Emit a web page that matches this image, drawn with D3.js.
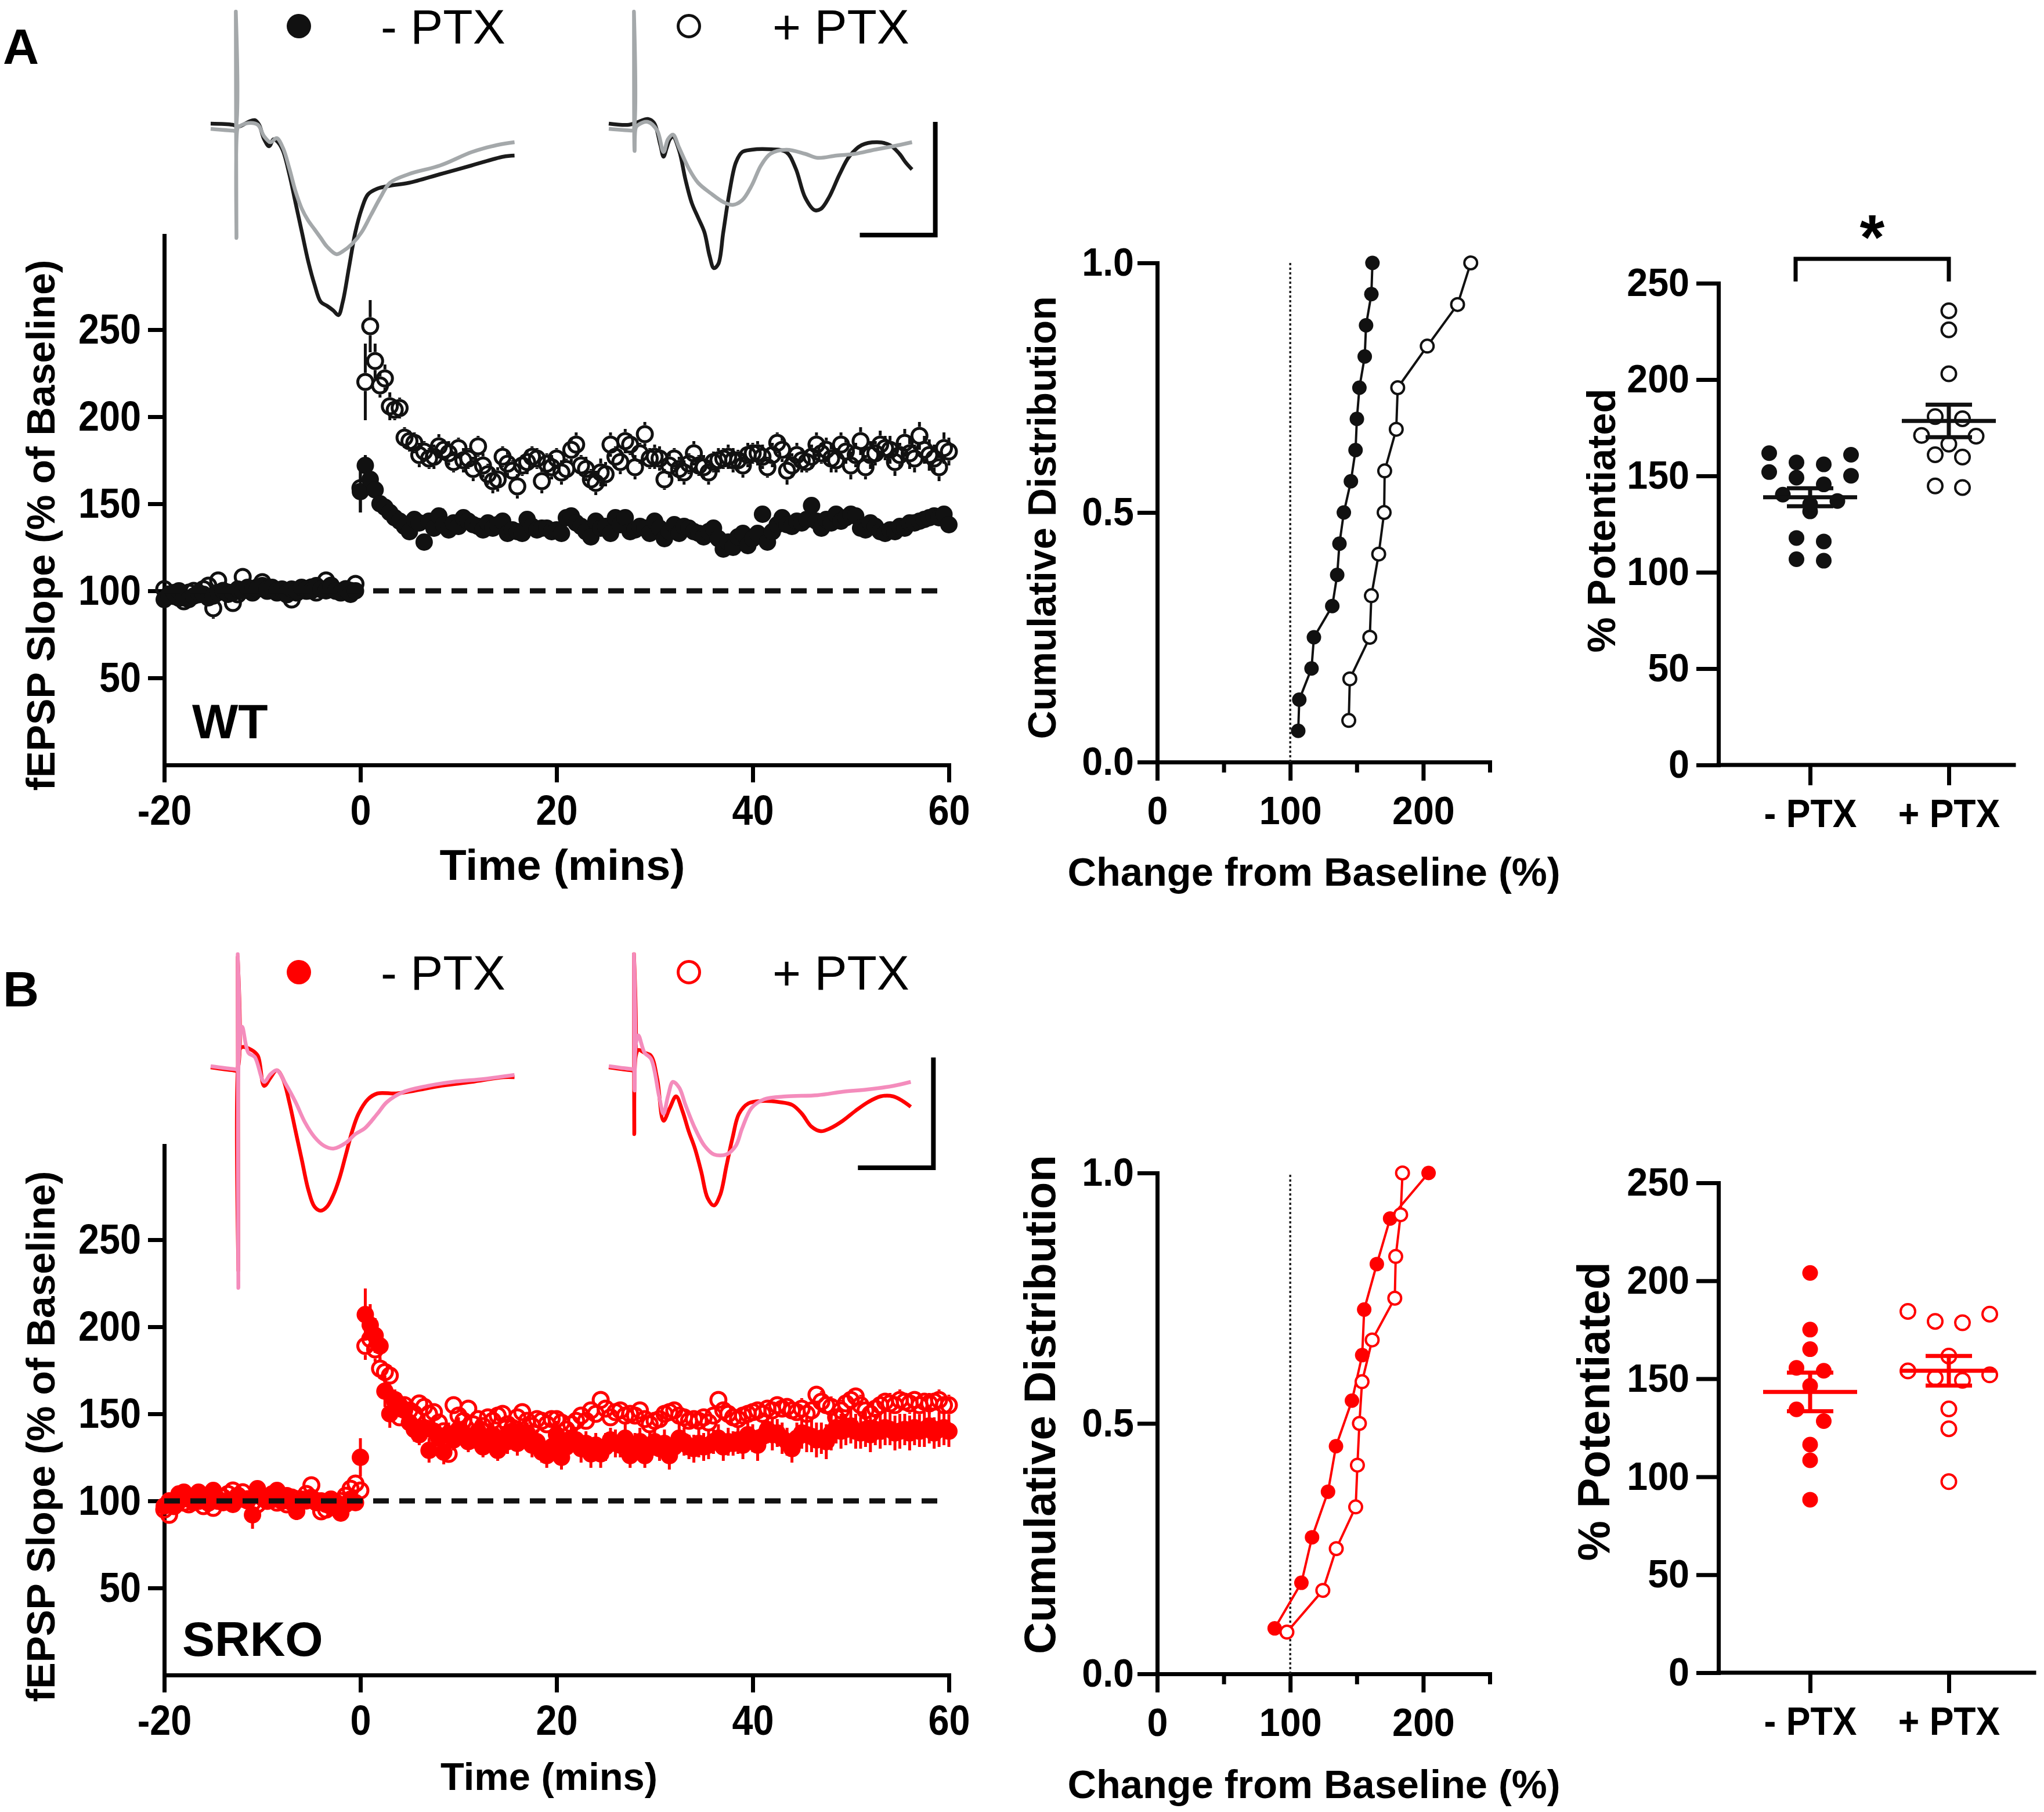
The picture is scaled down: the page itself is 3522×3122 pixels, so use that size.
<!DOCTYPE html>
<html>
<head>
<meta charset="utf-8">
<script src="https://cdn.jsdelivr.net/npm/d3@7"></script>
<style>
  body { margin: 0; background: #fff; }
  svg { display: block; }
  text { font-family: "Liberation Sans", Arial, Helvetica, sans-serif; }
</style>
</head>
<body>
<svg id="fig" width="3522" height="3122"></svg>
<script>
// colours
const BLACK = '#111111', GRAY = '#a4a8aa', RED = '#ff0000', PINK = '#f48cbc';

// tick values / labels
const timeTicks = [-20, 0, 20, 40, 60];
const slopeTicks = [50, 100, 150, 200, 250];
const cumYTicks = [0, 0.5, 1];
const cumXMajor = [0, 100, 200];
const cumXMinor = [50, 150, 250];
const potTicks = [0, 50, 100, 150, 200, 250];
const groups = ['- PTX', '+ PTX'];

// sampling grid of the time course (one point every 30 s)
const tBase = d3.range(-20, 0, 0.5);
const tPost = d3.range(0, 60.01, 0.5);

// ---- WT, -PTX (filled) ----
const wtMinusBase = [
  95, 97, 99, 100, 96, 95, 97, 99, 98, 96,
  97, 99, 100, 98, 99, 101, 100, 102, 100, 101,
  103, 101, 102, 100, 101, 99, 101, 100, 102, 101,
  100, 103, 101, 100, 102, 100, 99, 101, 98, 100];
const wtMinusBaseSem = [
  3, 3, 2, 2, 3, 3, 2, 2, 3, 2, 2, 3, 2, 2, 3, 2, 2, 3, 2, 2,
  3, 2, 2, 3, 2, 2, 3, 2, 2, 3, 2, 2, 3, 2, 2, 3, 2, 2, 3, 3];
const wtMinusPost = [
  157, 172, 164, 158, 150, 148, 145, 142, 140, 137,
  134, 141, 139, 128, 140, 136, 143, 138, 135, 139,
  137, 142, 140, 138, 137, 135, 139, 136, 138, 140,
  133, 135, 134, 133, 141, 137, 135, 136, 136, 134,
  135, 133, 142, 143, 139, 137, 134, 131, 140, 136,
  137, 133, 142, 138, 142, 134, 135, 137, 136, 133,
  140, 136, 130, 134, 138, 133, 137, 136, 134, 133,
  131, 134, 136, 130, 124, 128, 125, 131, 133, 126,
  130, 133, 144, 128, 134, 138, 142, 138, 137, 140,
  139, 141, 149, 140, 136, 141, 139, 144, 140, 142,
  144, 143, 136, 135, 139, 137, 134, 133, 135, 134,
  137, 136, 139, 139, 140, 141, 142, 143, 142, 144,
  138];
const wtMinusPostSem = [
  12, 6, 5, 4, 4, 4, 4, 3, 3, 3,
  3, 3, 3, 4, 3, 3, 3, 3, 3, 3,
  3, 3, 3, 3, 3, 3, 3, 3, 3, 3,
  3, 3, 3, 3, 3, 3, 3, 3, 3, 3,
  3, 3, 3, 3, 3, 3, 3, 3, 3, 3,
  3, 3, 3, 3, 3, 3, 3, 3, 3, 3,
  3, 3, 3, 3, 3, 3, 3, 3, 3, 3,
  3, 3, 3, 3, 4, 3, 4, 3, 3, 4,
  3, 3, 4, 4, 3, 3, 3, 3, 3, 3,
  3, 3, 4, 3, 3, 3, 3, 3, 3, 3,
  3, 3, 3, 3, 3, 3, 3, 3, 3, 3,
  3, 3, 3, 3, 3, 3, 3, 3, 3, 3,
  3];

// ---- WT, +PTX (open) ----
const wtPlusBase = [
  101, 98, 97, 96, 94, 99, 100, 98, 101, 103,
  90, 106, 100, 99, 93, 98, 108, 101, 99, 102,
  105, 100, 101, 99, 100, 98, 95, 99, 101, 100,
  102, 99, 101, 106, 103, 100, 99, 101, 100, 104];
const wtPlusBaseSem = [
  4, 5, 4, 4, 5, 4, 4, 5, 4, 4, 6, 5, 4, 5, 5, 4, 5, 4, 4, 4,
  5, 4, 4, 4, 5, 4, 5, 4, 4, 4, 4, 5, 4, 5, 4, 4, 4, 5, 4, 5];
const wtPlusPost = [
  159, 220, 252, 232, 218, 222, 206, 204, 205, 188,
  186, 185, 178, 180, 176, 177, 183, 181, 179, 174,
  182, 175, 176, 170, 183, 172, 167, 163, 164, 177,
  173, 169, 160, 172, 174, 177, 176, 163, 173, 171,
  176, 168, 170, 181, 184, 172, 170, 164, 162, 168,
  167, 184, 177, 174, 186, 184, 171, 179, 190, 176,
  177, 176, 164, 172, 176, 170, 168, 173, 179, 172,
  171, 168, 174, 175, 176, 177, 175, 175, 172, 178,
  179, 179, 177, 171, 178, 185, 181, 169, 172, 178,
  175, 174, 177, 184, 179, 181, 176, 175, 184, 180,
  172, 178, 186, 171, 178, 179, 184, 182, 181, 174,
  178, 185, 179, 176, 189, 181, 178, 176, 171, 182,
  180];
const wtPlusPostSem = [
  14, 22, 15, 10, 7, 8, 8, 6, 6, 6,
  6, 6, 7, 6, 6, 7, 7, 6, 7, 6,
  6, 7, 6, 7, 6, 7, 6, 7, 7, 6,
  7, 6, 7, 6, 7, 6, 6, 7, 6, 7,
  6, 7, 6, 7, 7, 6, 7, 6, 7, 8,
  7, 7, 6, 7, 7, 6, 7, 6, 7, 6,
  7, 7, 6, 7, 6, 7, 7, 6, 7, 6,
  7, 7, 6, 7, 6, 7, 7, 6, 7, 7,
  6, 7, 7, 6, 7, 6, 7, 8, 7, 7,
  7, 6, 7, 7, 6, 7, 8, 7, 7, 7,
  8, 7, 8, 7, 8, 7, 8, 7, 8, 8,
  7, 8, 9, 8, 8, 8, 9, 8, 8, 9,
  8];

// ---- SRKO, -PTX (filled) ----
const koMinusBase = [
  97, 100, 98, 104, 105, 101, 99, 105, 102, 100,
  106, 101, 99, 100, 98, 103, 101, 100, 92, 107,
  103, 101, 104, 106, 100, 103, 99, 94, 101, 100,
  102, 99, 100, 98, 101, 96, 93, 98, 101, 99];
const koMinusBaseSem = [
  4, 3, 4, 3, 4, 3, 4, 4, 3, 4, 4, 3, 4, 3, 4, 4, 3, 4, 8, 4,
  4, 3, 4, 4, 3, 4, 3, 5, 4, 3, 4, 3, 4, 3, 4, 5, 4, 3, 4, 4];
const koMinusPost = [
  125, 207, 201, 195, 189, 163, 150, 157, 155, 152,
  145, 141, 138, 142, 129, 140, 136, 128, 138, 135,
  141, 139, 134, 137, 140, 131, 135, 138, 129, 136,
  134, 140, 133, 137, 139, 132, 134, 128, 126, 131,
  138, 125, 131, 136, 135, 130, 133, 127, 132, 127,
  131, 135, 133, 132, 136, 126, 131, 134, 126, 131,
  134, 130, 133, 126, 131, 136, 134, 131, 130, 133,
  131, 132, 134, 136, 131, 134, 133, 135, 132, 138,
  136, 132, 137, 141, 138, 139, 136, 134, 130, 136,
  139, 138, 137, 135, 136, 134, 139, 142, 140, 141,
  143, 140, 139, 141, 138, 141, 140, 142, 141, 139,
  140, 141, 139, 142, 140, 141, 143, 139, 141, 142,
  140];
const koMinusPostSem = [
  11, 15, 12, 10, 8, 9, 8, 7, 7, 7,
  7, 7, 6, 7, 7, 7, 6, 7, 7, 6,
  7, 7, 6, 7, 7, 6, 7, 7, 6, 7,
  7, 6, 7, 7, 6, 7, 7, 6, 7, 7,
  8, 7, 7, 8, 7, 8, 7, 8, 7, 8,
  8, 7, 8, 7, 8, 7, 8, 8, 7, 8,
  8, 7, 8, 8, 7, 8, 8, 7, 8, 8,
  8, 8, 7, 8, 8, 8, 7, 8, 8, 8,
  8, 9, 8, 8, 9, 8, 9, 8, 8, 9,
  9, 10, 9, 10, 9, 10, 10, 9, 10, 9,
  10, 10, 9, 10, 10, 9, 10, 10, 9, 10,
  10, 9, 10, 10, 9, 10, 10, 9, 10, 10,
  9];

// ---- SRKO, +PTX (open) ----
const koPlusBase = [
  95, 92, 97, 100, 99, 98, 101, 100, 97, 99,
  96, 100, 102, 104, 106, 103, 105, 101, 99, 98,
  102, 100, 101, 99, 100, 98, 102, 101, 100, 104,
  109, 100, 94, 95, 97, 99, 100, 103, 107, 110];
const koPlusBaseSem = [
  4, 5, 4, 4, 3, 4, 4, 3, 4, 4, 4, 3, 4, 4, 4, 3, 4, 4, 3, 4,
  4, 3, 4, 4, 3, 4, 4, 3, 4, 4, 5, 4, 4, 3, 4, 4, 3, 4, 4, 5];
const koPlusPost = [
  106, 189, 193, 187, 176, 174, 172, 158, 148, 155,
  152, 150, 156, 154, 150, 151, 145, 140, 127, 155,
  149, 146, 153, 144, 147, 143, 148, 146, 149, 150,
  144, 142, 148, 151, 146, 143, 147, 146, 144, 147,
  147, 145, 141, 144, 146, 149, 146, 152, 150, 158,
  153, 148, 151, 152, 149, 150, 149, 152, 147, 144,
  146, 147, 150, 151, 152, 149, 148, 146, 147, 146,
  148, 145, 149, 158, 152, 150, 148, 147, 149, 150,
  151, 152, 150, 153, 152, 155, 153, 154, 152, 151,
  153, 150, 152, 161, 157, 155, 154, 148, 152, 156,
  158, 160, 155, 152, 150, 153, 155, 157, 156, 155,
  158, 157, 156, 158, 155, 157, 156, 157, 158, 155,
  155];
const koPlusPostSem = [
  5, 8, 7, 7, 6, 6, 6, 6, 5, 5,
  5, 5, 5, 5, 5, 5, 5, 5, 5, 5,
  5, 5, 5, 5, 5, 5, 5, 5, 5, 5,
  5, 5, 5, 5, 5, 5, 5, 5, 5, 5,
  5, 5, 5, 5, 5, 5, 5, 5, 5, 5,
  5, 5, 5, 5, 5, 5, 5, 5, 5, 5,
  5, 5, 5, 5, 5, 5, 5, 5, 5, 5,
  5, 5, 5, 5, 5, 5, 5, 5, 5, 5,
  5, 5, 5, 5, 5, 5, 5, 5, 5, 5,
  6, 5, 6, 5, 6, 5, 6, 5, 6, 5,
  6, 5, 6, 5, 6, 5, 6, 5, 6, 5,
  6, 5, 6, 5, 6, 5, 6, 5, 6, 5,
  6];

// % potentiation per slice
const wtMinusPot = [106, 106.8, 116, 117.8, 131.6, 135.3, 137, 140.3, 145.6, 149.1, 150.1, 152, 156, 157, 161, 161.8];
const wtPlusPot = [144, 144.8, 159.8, 161, 166.5, 170.6, 171, 179.7, 180.8, 203, 225.8, 235.7];
const koMinusPot = [88.3, 108.4, 116.4, 128.4, 134.4, 146.4, 154.1, 155.6, 165.1, 175.1, 204];
const koPlusPot = [97.5, 124.5, 134.6, 149.2, 150.5, 152, 154, 161.6, 178.6, 179.3, 183, 184.4];

// example fEPSP traces, [ms, mV]
const wtMinusTraceA = [[0,0.02],[3.5,0],[4.5,-0.03],[6,0.05],[7,0.08],[7.7,0],[8.5,-0.25],[9.3,-0.37],[10,-0.25],[10.7,-0.3],[11.5,-0.45],[12.5,-0.85],[13.5,-1.35],[14.5,-1.85],[15.5,-2.35],[16.5,-2.75],[17.5,-3.05],[18.5,-3.12],[19.5,-3.2],[20.3,-3.28],[21,-3.05],[22,-2.45],[23,-1.85],[24,-1.45],[25,-1.2],[26.5,-1.1],[28.5,-1.05],[31.5,-1.0],[36.5,-0.85],[41.5,-0.7],[46.5,-0.55],[48.3,-0.53]];
const wtMinusTraceB = [[0,-0.07],[3.5,-0.1],[3.9,-0.1],[4.0,1.95],[4.1,-1.95],[4.3,-0.05],[4.5,-0.03],[6,0.03],[7.5,0],[8.5,-0.2],[9.5,-0.3],[10.5,-0.23],[11.5,-0.4],[12.5,-0.75],[13.5,-1.15],[14.5,-1.45],[15.5,-1.65],[16.5,-1.8],[17.5,-1.95],[18.5,-2.1],[20,-2.23],[21,-2.18],[22.5,-2.05],[24,-1.85],[25.5,-1.55],[27,-1.25],[28.5,-1.0],[31.5,-0.85],[36.5,-0.7],[41.5,-0.47],[45.5,-0.35],[48.3,-0.3]];
const wtPlusTraceA = [[0,0.02],[3.2,0],[4.7,0.05],[6.2,0.1],[7.2,0.03],[8.2,-0.35],[8.7,-0.55],[9.2,-0.4],[9.7,-0.25],[10.2,-0.2],[11.2,-0.45],[12.2,-0.95],[13.2,-1.35],[14.2,-1.6],[15.2,-1.85],[16,-2.25],[16.7,-2.47],[17.4,-2.4],[18.2,-1.85],[19.2,-1.15],[20.2,-0.65],[21.2,-0.47],[22.7,-0.43],[25.2,-0.42],[28.2,-0.47],[29.7,-0.75],[31.2,-1.25],[32.7,-1.47],[33.7,-1.45],[35,-1.25],[36.7,-0.85],[38.2,-0.55],[40.2,-0.35],[42.7,-0.3],[44.7,-0.35],[46.2,-0.5],[47.2,-0.65],[48.2,-0.77]];
const wtPlusTraceB = [[0,-0.07],[3.7,-0.1],[3.95,-0.1],[4.0,1.95],[4.1,-0.45],[4.3,-0.05],[4.7,0],[6.2,0.05],[7.7,-0.1],[8.7,-0.47],[9.4,-0.25],[10.2,-0.17],[11.2,-0.4],[12.7,-0.75],[14.2,-1.0],[16.2,-1.18],[18.2,-1.33],[19.7,-1.38],[21.2,-1.3],[22.7,-1.05],[24.2,-0.7],[25.7,-0.5],[28.2,-0.43],[31.2,-0.5],[33.2,-0.57],[36.2,-0.53],[39.2,-0.5],[42.2,-0.43],[45.2,-0.37],[48.2,-0.3]];
const koMinusTraceA = [[0,0],[3.5,-0.05],[4.2,-0.05],[4.3,1.9],[4.4,-3.5],[4.6,0.3],[5,0.35],[6.5,0.3],[7.5,0.2],[8.5,-0.32],[9.5,-0.18],[10.5,-0.05],[11.5,-0.2],[12.5,-0.6],[13.5,-1.1],[14.5,-1.6],[15.5,-2.1],[16.5,-2.4],[17.5,-2.47],[18.5,-2.4],[19.5,-2.2],[20.5,-1.9],[21.5,-1.5],[22.5,-1.1],[23.5,-0.8],[25,-0.55],[26.5,-0.45],[29.5,-0.45],[32.5,-0.4],[36.5,-0.32],[41.5,-0.25],[46.5,-0.17],[48.3,-0.17]];
const koMinusTraceB = [[0,0.02],[3.7,-0.03],[4.2,-0.03],[4.3,1.95],[4.4,-3.8],[4.6,0.5],[5,0.7],[6,0.25],[7,0.18],[8.5,-0.25],[9.5,-0.12],[10.5,-0.05],[12,-0.3],[13.5,-0.6],[15,-0.95],[16.5,-1.2],[18,-1.35],[19.5,-1.4],[21.5,-1.3],[23,-1.15],[24.5,-1.05],[26.5,-0.8],[28,-0.6],[30.5,-0.43],[34.5,-0.32],[38.5,-0.25],[43.5,-0.2],[48.3,-0.13]];
const koPlusTraceA = [[0,0],[3.5,-0.05],[3.95,-0.05],[4.0,1.95],[4.05,-1.15],[4.3,0.2],[4.7,0.3],[5.7,0.25],[6.7,0.2],[7.7,-0.2],[8.7,-0.92],[9.7,-0.7],[10.7,-0.5],[11.7,-0.75],[12.7,-1.1],[13.7,-1.4],[14.7,-1.8],[15.7,-2.25],[16.7,-2.38],[17.7,-2.2],[18.7,-1.7],[19.7,-1.2],[20.7,-0.8],[22.2,-0.62],[24.2,-0.58],[27.2,-0.6],[29.2,-0.65],[30.7,-0.8],[32.2,-1.02],[33.7,-1.1],[35.2,-1.05],[37.2,-0.92],[39.2,-0.75],[41.2,-0.6],[43.2,-0.5],[45.2,-0.5],[46.7,-0.58],[48,-0.68]];
const koPlusTraceB = [[0,0.02],[3.7,-0.03],[3.95,-0.03],[4.0,1.95],[4.1,-0.4],[4.3,0.4],[4.7,0.55],[5.7,0.25],[6.7,0.15],[8,-0.5],[8.7,-0.8],[9.4,-0.5],[10.2,-0.25],[11.2,-0.35],[12.2,-0.65],[13.7,-1.05],[15.2,-1.35],[16.7,-1.5],[18.7,-1.5],[20.2,-1.35],[21.2,-1.05],[22.7,-0.7],[24.7,-0.55],[28.2,-0.5],[33.2,-0.48],[37.2,-0.42],[41.2,-0.38],[45.2,-0.32],[48,-0.25]];

const svg = d3.select('#fig');
svg.append('rect').attr('width', 3522).attr('height', 3122).attr('fill', '#fff');

// narrow the glyphs of a text selection without moving its anchor
function squeeze(sel, k) {
  sel.each(function () {
    const t = d3.select(this);
    const x = +t.attr('x') || 0;
    t.attr('x', x / k).attr('transform', `scale(${k},1)`);
  });
}

function styleAxis(ax, size, k) {
  ax.attr('font-size', null).attr('font-family', null);
  ax.select('.domain').attr('stroke', '#000').attr('stroke-width', 7).attr('stroke-linecap', 'square');
  ax.selectAll('.tick line').attr('stroke', '#000').attr('stroke-width', 7);
  ax.selectAll('.tick text').attr('font-size', size).attr('font-weight', 'bold').attr('fill', '#000');
  squeeze(ax.selectAll('.tick text'), k);
}

function title(g, txt, x, y, size, len, rotate) {
  g.append('text')
    .attr('transform', `translate(${x},${y})` + (rotate ? ' rotate(-90)' : ''))
    .attr('text-anchor', 'middle')
    .attr('font-size', size).attr('font-weight', 'bold')
    .attr('textLength', len).attr('lengthAdjust', 'spacingAndGlyphs')
    .text(txt);
}

function drawTimeCourse(cfg) {
  const g = svg.append('g');
  const x = d3.scaleLinear().domain([-20, 60]).range([283, 1635]);
  const y = d3.scaleLinear().domain([0, 304]).range([cfg.y0, cfg.y0 - 912]);

  const xa = g.append('g').attr('transform', `translate(0,${cfg.y0})`)
    .call(d3.axisBottom(x).tickValues(timeTicks).tickSize(30).tickPadding(22)
      .tickSizeOuter(0).tickFormat(d => String(d)));
  styleAxis(xa, 72, 0.9);
  const ya = g.append('g').attr('transform', `translate(${x(-20)},0)`)
    .call(d3.axisLeft(y).tickValues(slopeTicks).tickSize(28).tickPadding(12).tickSizeOuter(0));
  styleAxis(ya, 72, 0.9);

  const rOpen = 13, rFill = 15;
  cfg.series.forEach(s => {
    const r = s.open ? rOpen + 2.5 : 0;
    const pts = tBase.map((t, i) => ({ t, v: s.base[i], e: s.baseSem[i] }))
      .concat(tPost.map((t, i) => ({ t, v: s.post[i], e: s.postSem[i] })))
      .filter(d => d.v != null);
    const sg = g.append('g');
    // error bars stop at the rim of open symbols
    const bars = pts.filter(d => y(d.v - d.e) - y(d.v) > r);
    sg.selectAll('path').data(bars).join('path')
      .attr('d', d => `M${x(d.t)},${y(d.v + d.e)}V${y(d.v) - r}M${x(d.t)},${y(d.v) + r}V${y(d.v - d.e)}`)
      .attr('stroke', cfg.color).attr('stroke-width', 5);
    sg.selectAll('circle').data(pts).join('circle')
      .attr('cx', d => x(d.t)).attr('cy', d => y(d.v))
      .attr('r', s.open ? rOpen : rFill)
      .attr('fill', s.open ? 'none' : cfg.color)
      .attr('stroke', s.open ? cfg.color : 'none')
      .attr('stroke-width', 5);
  });

  g.append('line')
    .attr('x1', x(-20)).attr('x2', x(58.9)).attr('y1', y(100)).attr('y2', y(100))
    .attr('stroke', '#111').attr('stroke-width', 9).attr('stroke-dasharray', '27,18');

  g.append('text').attr('x', cfg.tagX).attr('y', cfg.tagY)
    .attr('font-size', 84).attr('font-weight', 'bold').text(cfg.tag);

  title(g, 'fEPSP Slope (% of Baseline)', 94, cfg.yTitleY, 68, 915, true);
  title(g, 'Time (mins)', cfg.xTitleX, cfg.xTitleY, cfg.xTitleSize, cfg.xTitleLen, false);

  // example traces
  const tx1 = d3.scaleLinear().domain([0, 48.3]).range([363, 363 + 48.3 * 10.84]);
  const tx2 = d3.scaleLinear().domain([0, 48.3]).range([1049, 1049 + 48.3 * 10.84]);
  const ty = d3.scaleLinear().domain([0, 1]).range([cfg.traceY, cfg.traceY - 100]);
  const line1 = d3.line().x(d => tx1(d[0])).y(d => ty(d[1])).curve(d3.curveCatmullRom.alpha(0.5));
  const line2 = d3.line().x(d => tx2(d[0])).y(d => ty(d[1])).curve(d3.curveCatmullRom.alpha(0.5));
  const tr = g.append('g').attr('fill', 'none').attr('stroke-width', 6.5).attr('stroke-linejoin', 'round');
  tr.append('path').attr('d', line1(cfg.traces[0])).attr('stroke', cfg.traceColors[0]);
  tr.append('path').attr('d', line1(cfg.traces[1])).attr('stroke', cfg.traceColors[1]);
  tr.append('path').attr('d', line2(cfg.traces[2])).attr('stroke', cfg.traceColors[0]);
  tr.append('path').attr('d', line2(cfg.traces[3])).attr('stroke', cfg.traceColors[1]);
  // scale bar
  const sb = cfg.scaleBar;
  g.append('path')
    .attr('d', `M${tx2(sb.t - sb.ms)},${ty(sb.v)}H${tx2(sb.t)}V${ty(sb.v + sb.mv)}`)
    .attr('fill', 'none').attr('stroke', '#000').attr('stroke-width', 8);

  // legend
  const lg = g.append('g');
  lg.append('circle').attr('cx', 515).attr('cy', cfg.legendY).attr('r', 21).attr('fill', cfg.color);
  lg.append('text').attr('x', 656).attr('y', cfg.legendY + 30).attr('font-size', 84).text(groups[0]);
  lg.append('circle').attr('cx', 1187).attr('cy', cfg.legendY).attr('r', 18.5)
    .attr('fill', '#fff').attr('stroke', cfg.color).attr('stroke-width', 5);
  lg.append('text').attr('x', 1331).attr('y', cfg.legendY + 30).attr('font-size', 84).text(groups[1]);
  g.append('text').attr('x', 5).attr('y', cfg.letterY).attr('font-size', 86).attr('font-weight', 'bold').text(cfg.letter);
}

function drawCumulative(cfg) {
  const g = svg.append('g');
  const x = d3.scaleLinear().domain([0, 250]).range([1994, 2567]);
  const y = d3.scaleLinear().domain([0, 1]).range([cfg.y0, cfg.y1]);

  const xa = g.append('g').attr('transform', `translate(0,${cfg.y0})`)
    .call(d3.axisBottom(x).tickValues(cumXMajor).tickSize(32).tickPadding(27).tickSizeOuter(0));
  styleAxis(xa, 68, 0.95);
  const xm = g.append('g').attr('transform', `translate(0,${cfg.y0})`)
    .call(d3.axisBottom(x).tickValues(cumXMinor).tickSize(18).tickFormat(''));
  xm.select('.domain').remove();
  xm.selectAll('.tick line').attr('stroke', '#000').attr('stroke-width', 7);
  const ya = g.append('g').attr('transform', `translate(${x(0)},0)`)
    .call(d3.axisLeft(y).tickValues(cumYTicks).tickFormat(d3.format('.1f')).tickSize(34).tickPadding(6).tickSizeOuter(0));
  styleAxis(ya, 68, 0.95);

  g.append('line').attr('x1', x(100)).attr('x2', x(100)).attr('y1', y(0)).attr('y2', y(1))
    .attr('stroke', '#222').attr('stroke-width', 3.5).attr('stroke-dasharray', '4,4');

  cfg.series.forEach(s => {
    const sorted = s.values.slice().sort(d3.ascending);
    const pts = sorted.map((v, i) => [v, (i + 1) / sorted.length]);
    g.append('path').attr('d', d3.line().x(d => x(d[0])).y(d => y(d[1]))(pts))
      .attr('fill', 'none').attr('stroke', cfg.color).attr('stroke-width', 4);
    g.append('g').selectAll('circle').data(pts).join('circle')
      .attr('cx', d => x(d[0])).attr('cy', d => y(d[1]))
      .attr('r', s.open ? 11 : 12.5)
      .attr('fill', s.open ? '#fff' : cfg.color)
      .attr('stroke', s.open ? cfg.color : 'none').attr('stroke-width', 4);
  });

  title(g, 'Cumulative Distribution', cfg.yTitleX, cfg.yTitleY, cfg.yTitleSize, cfg.yTitleLen, true);
  title(g, 'Change from Baseline (%)', 2264, cfg.xTitleY, 68, 849, false);
}

// Prism-like rows: points closer than binPx share a row and are spread symmetrically
function rowOffsets(values, yScale, binPx, spacing) {
  const order = d3.range(values.length).sort((a, b) => values[b] - values[a]);
  const off = new Array(values.length).fill(0);
  let i = 0;
  while (i < order.length) {
    const top = yScale(values[order[i]]);
    let j = i;
    while (j + 1 < order.length && yScale(values[order[j + 1]]) - top < binPx) j++;
    const n = j - i + 1;
    const slots = d3.range(n).map(k => k - (n - 1) / 2)
      .sort((a, b) => Math.abs(b) - Math.abs(a) || a - b);
    for (let k = 0; k < n; k++) off[order[i + k]] = slots[k] * spacing;
    i = j + 1;
  }
  return off;
}

function drawScatter(cfg) {
  const g = svg.append('g');
  const y = d3.scaleLinear().domain([0, 250]).range([cfg.y0, cfg.y250]);
  const x = d3.scalePoint().domain(groups).range([3119, 3358]);

  const ya = g.append('g').attr('transform', 'translate(2961,0)')
    .call(d3.axisLeft(y).tickValues(potTicks).tickSize(38).tickPadding(12).tickSizeOuter(0));
  styleAxis(ya, 68, 0.95);
  const xa = g.append('g').attr('transform', `translate(0,${cfg.y0})`)
    .call(d3.axisBottom(x).tickSize(35).tickPadding(24).tickSizeOuter(0));
  styleAxis(xa, 68, 0.92);
  xa.select('.domain').remove();
  g.append('line').attr('x1', 2961).attr('x2', cfg.xEnd).attr('y1', cfg.y0).attr('y2', cfg.y0)
    .attr('stroke', '#000').attr('stroke-width', 7).attr('stroke-linecap', 'square');

  cfg.series.forEach((s, gi) => {
    const cx = x(groups[gi]);
    const off = rowOffsets(s.values, y, 22, 47);
    g.append('g').selectAll('circle').data(s.values).join('circle')
      .attr('cx', (d, i) => cx + off[i]).attr('cy', d => y(d))
      .attr('r', s.open ? 12.5 : 13.5)
      .attr('fill', s.open ? '#fff' : cfg.color)
      .attr('stroke', s.open ? cfg.color : 'none').attr('stroke-width', 4);
    const m = d3.mean(s.values);
    const se = d3.deviation(s.values) / Math.sqrt(s.values.length);
    const eg = g.append('g').attr('stroke', cfg.color).attr('stroke-width', 7);
    eg.append('line').attr('x1', cx - 81).attr('x2', cx + 81).attr('y1', y(m)).attr('y2', y(m));
    eg.append('line').attr('x1', cx).attr('x2', cx).attr('y1', y(m - se)).attr('y2', y(m + se));
    eg.append('line').attr('x1', cx - 40).attr('x2', cx + 40).attr('y1', y(m - se)).attr('y2', y(m - se));
    eg.append('line').attr('x1', cx - 40).attr('x2', cx + 40).attr('y1', y(m + se)).attr('y2', y(m + se));
  });

  if (cfg.star) {
    g.append('path')
      .attr('d', `M${x(groups[0]) - 25},485V446H${x(groups[1])}V485`)
      .attr('fill', 'none').attr('stroke', '#000').attr('stroke-width', 7);
    g.append('text').attr('x', (x(groups[0]) - 25 + x(groups[1])) / 2).attr('y', 446)
      .attr('text-anchor', 'middle').attr('font-size', 110).attr('font-weight', 'bold').text('*');
  }
  title(g, '% Potentiated', cfg.yTitleX, cfg.yTitleY, cfg.yTitleSize, cfg.yTitleLen, true);
}

// ---------- panel A (WT) ----------
drawTimeCourse({
  y0: 1318, color: BLACK, tag: 'WT', tagX: 331, tagY: 1272,
  yTitleY: 905, xTitleX: 969, xTitleY: 1516, xTitleSize: 74, xTitleLen: 423,
  series: [
    { open: true, base: wtPlusBase, baseSem: wtPlusBaseSem, post: wtPlusPost, postSem: wtPlusPostSem },
    { open: false, base: wtMinusBase, baseSem: wtMinusBaseSem, post: wtMinusPost, postSem: wtMinusPostSem }
  ],
  traceY: 215, traces: [wtMinusTraceA, wtMinusTraceB, wtPlusTraceA, wtPlusTraceB], traceColors: ['#1b1b1b', GRAY],
  scaleBar: { t: 51.9, v: -1.9, ms: 12, mv: 1.95 },
  legendY: 45, letter: 'A', letterY: 110
});
drawCumulative({
  y0: 1313, y1: 453, color: BLACK,
  yTitleX: 1819, yTitleY: 892, yTitleSize: 68, yTitleLen: 763, xTitleY: 1526,
  series: [{ open: true, values: wtPlusPot }, { open: false, values: wtMinusPot }]
});
drawScatter({
  y0: 1318, y250: 488, color: BLACK, xEnd: 3470, star: true,
  yTitleX: 2783, yTitleY: 897, yTitleSize: 68, yTitleLen: 455,
  series: [{ open: false, values: wtMinusPot }, { open: true, values: wtPlusPot }]
});

// ---------- panel B (SRKO) ----------
drawTimeCourse({
  y0: 2886, color: RED, tag: 'SRKO', tagX: 314, tagY: 2853,
  yTitleY: 2475, xTitleX: 946, xTitleY: 3084, xTitleSize: 66, xTitleLen: 374,
  series: [
    { open: false, base: koMinusBase, baseSem: koMinusBaseSem, post: koMinusPost, postSem: koMinusPostSem },
    { open: true, base: koPlusBase, baseSem: koPlusBaseSem, post: koPlusPost, postSem: koPlusPostSem }
  ],
  traceY: 1839, traces: [koMinusTraceA, koMinusTraceB, koPlusTraceA, koPlusTraceB], traceColors: [RED, PINK],
  scaleBar: { t: 51.6, v: -1.73, ms: 12, mv: 1.9 },
  legendY: 1675, letter: 'B', letterY: 1734
});
drawCumulative({
  y0: 2884, y1: 2021, color: RED,
  yTitleX: 1818, yTitleY: 2420, yTitleSize: 76, yTitleLen: 860, xTitleY: 3098,
  series: [{ open: false, values: koMinusPot }, { open: true, values: koPlusPot }]
});
drawScatter({
  y0: 2882, y250: 2038, color: RED, xEnd: 3505, star: false,
  yTitleX: 2773, yTitleY: 2432, yTitleSize: 78, yTitleLen: 515,
  series: [{ open: false, values: koMinusPot }, { open: true, values: koPlusPot }]
});
</script>
</body>
</html>
